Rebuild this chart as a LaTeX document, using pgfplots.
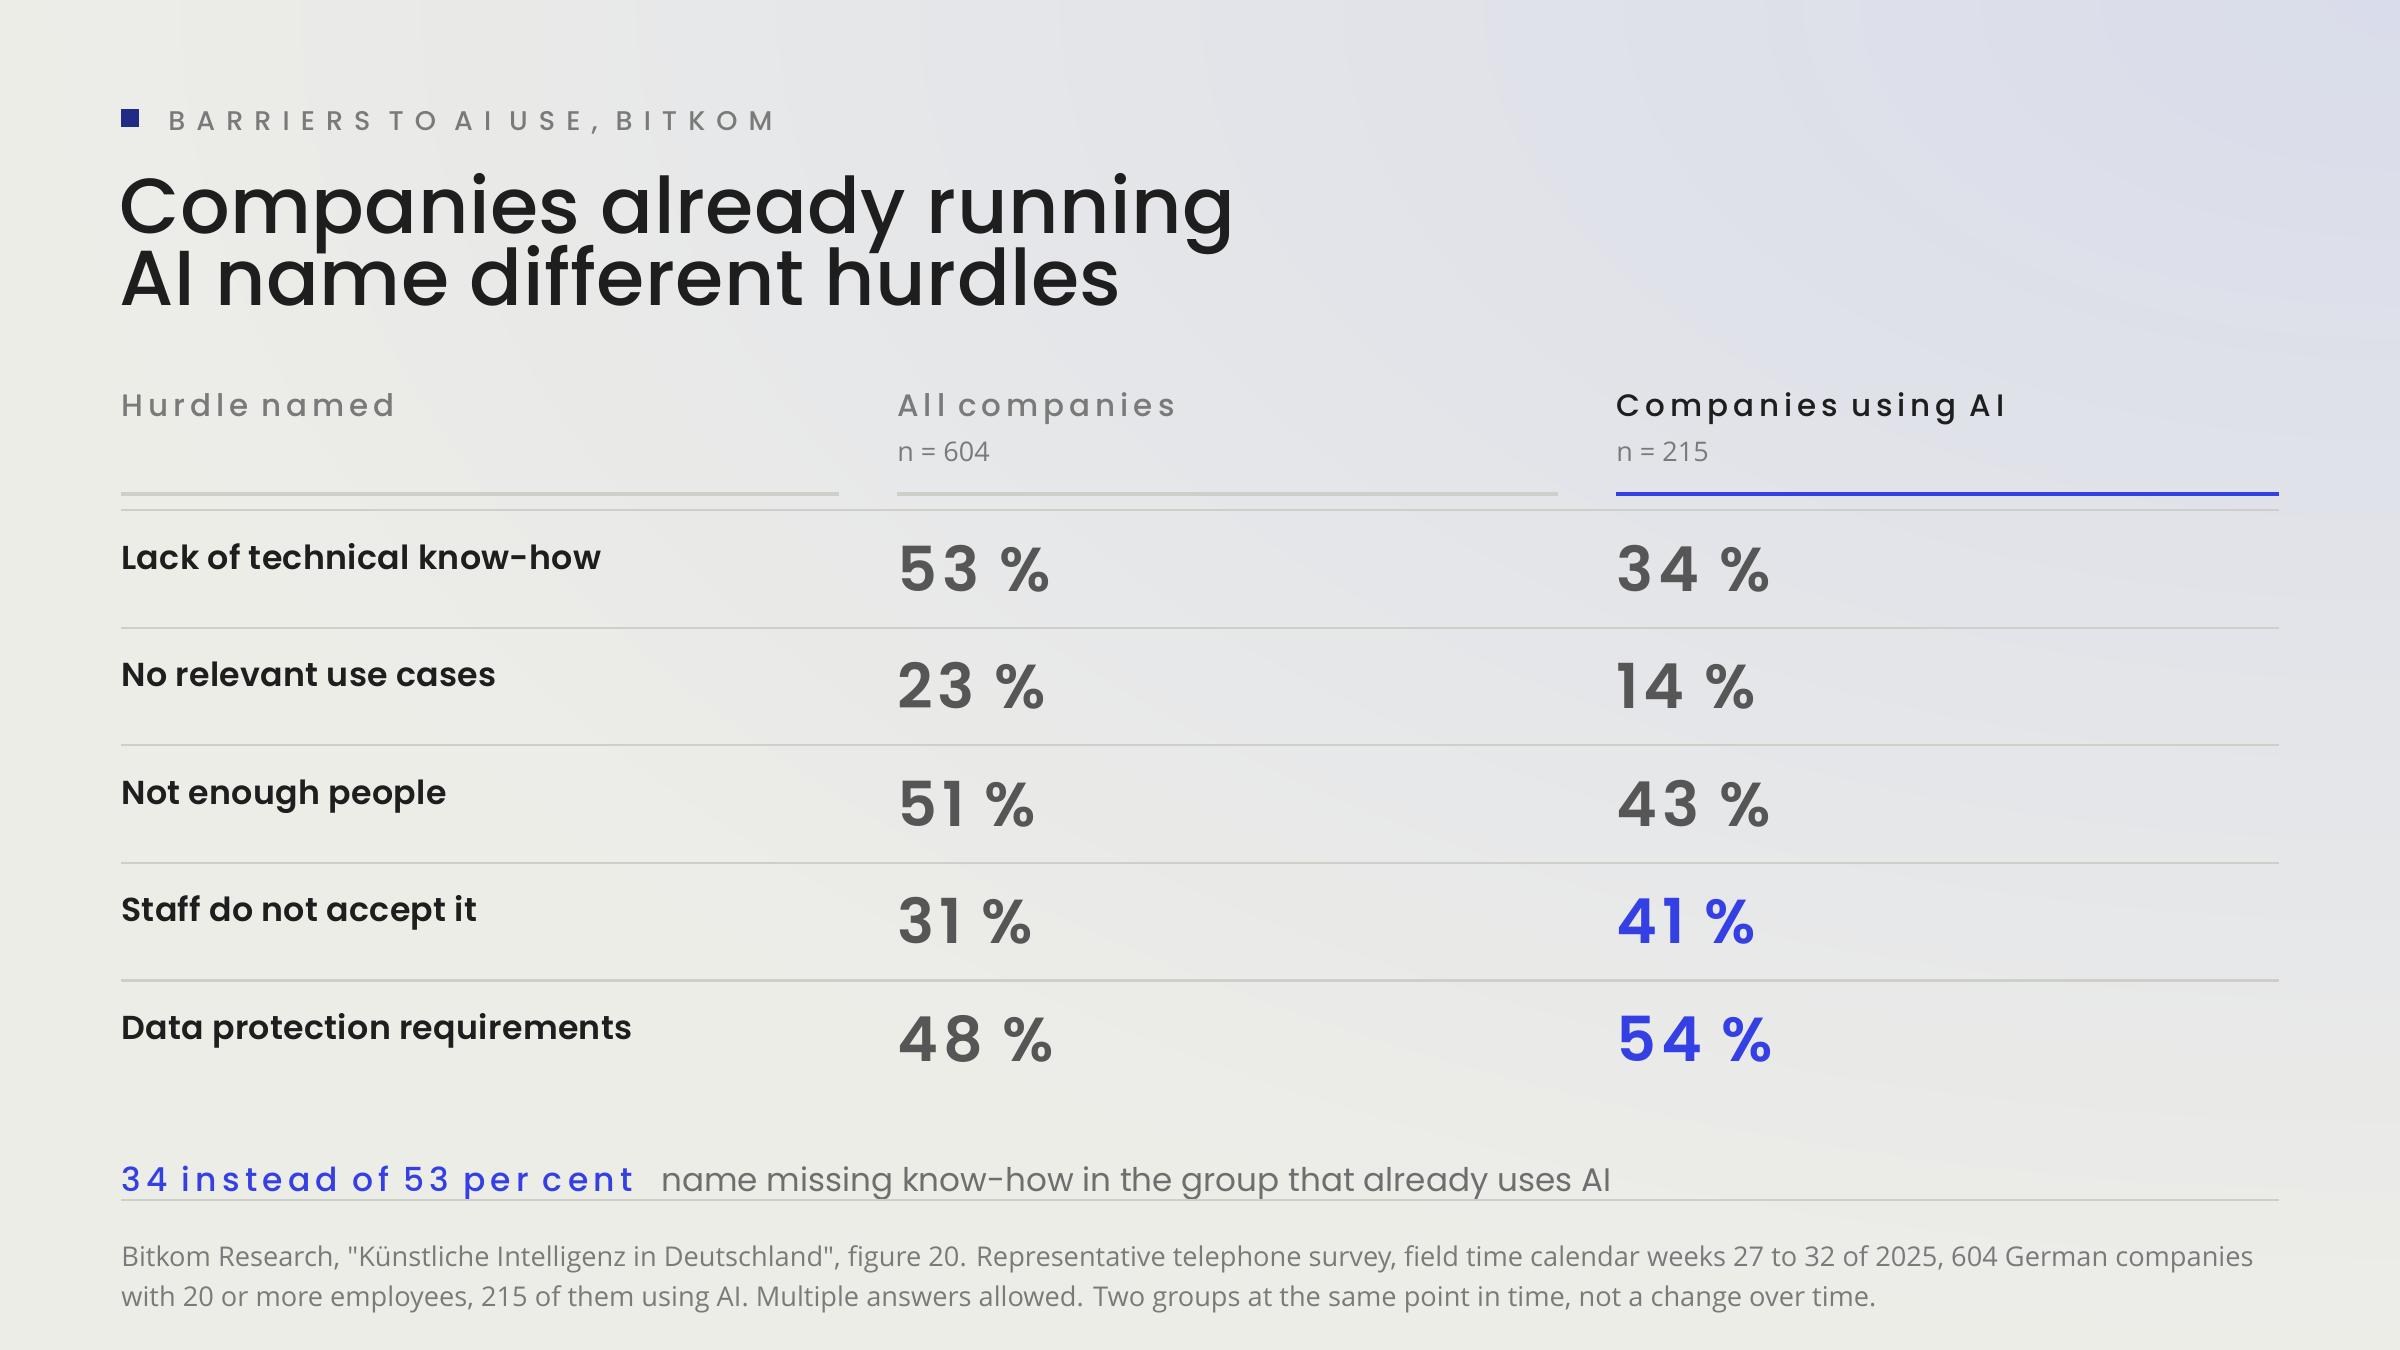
\documentclass[border=0pt]{standalone}
\usepackage{pgfplots}
\pgfplotsset{compat=1.18}
\usepackage{pgfplotstable}
\usepackage{fontspec}
\setmainfont{Poppins}
\newfontfamily\titlefont{Poppins Medium}[LetterSpace=0.5]
\newfontfamily\kickfont{Poppins Medium}[LetterSpace=41]
\newfontfamily\headfont{Poppins Medium}[LetterSpace=16]
\newfontfamily\labfont{Poppins SemiBold}[LetterSpace=1]
\newfontfamily\valfont{Poppins SemiBold}[LetterSpace=8]
\newfontfamily\callfont{Poppins Medium}[LetterSpace=16]
\newfontfamily\notefont{Open Sans}

\definecolor{bgc}{HTML}{EDEDE8}
\definecolor{tint}{HTML}{D9DCEA}
\definecolor{ink}{HTML}{1E1E1E}
\definecolor{grey}{HTML}{7A7A7A}
\definecolor{valgrey}{HTML}{565656}
\definecolor{rulec}{HTML}{CFCFCA}
\definecolor{accent}{HTML}{3440E4}
\definecolor{navy}{HTML}{1F2B85}

% share of companies naming each hurdle (per cent)
\pgfplotstableread[col sep=comma]{
row,label,all,ai
0,Lack of technical know-how,53,34
1,No relevant use cases,23,14
2,Not enough people,51,43
3,Staff do not accept it,31,41
4,Data protection requirements,48,54
}\hurdles

\pgfplotsset{
  valnode/.style={only marks, mark=none,
    nodes near coords={\pgfplotspointmeta~\%},
    point meta=explicit symbolic,
    every node near coord/.style={anchor=base west, inner sep=0pt, text=#1,
      font={\valfont\fontsize{31pt}{35pt}\selectfont}}},
}

\begin{document}
\begin{tikzpicture}
\useasboundingbox (0,0) rectangle (1200pt,675pt);
\fill[bgc] (0,0) rectangle (1200pt,675pt);
\begin{scope}
  \clip (0,0) rectangle (1200pt,675pt);
  \shade[inner color=tint, outer color=bgc] (1200pt,675pt) ellipse (1200pt and 680pt);
\end{scope}

\begin{axis}[
    at={(0,0)}, anchor=south west,
    width=1200pt, height=675pt, scale only axis,
    xmin=0, xmax=2400, ymin=0, ymax=1350,
    y dir=reverse,
    axis lines=none,
    clip=false,
]
% kicker and title
\fill[navy] (axis cs:121,109) rectangle (axis cs:139,127);
\node[anchor=base west, inner sep=0pt, text=grey,
      font={\kickfont\fontsize{13.5pt}{16pt}\selectfont}]
  at (axis cs:168,130) {BARRIERS TO AI USE, BITKOM};
\node[anchor=base west, inner sep=0pt, text=ink,
      font={\titlefont\fontsize{39pt}{46pt}\selectfont}]
  at (axis cs:119,233) {Companies already running};
\node[anchor=base west, inner sep=0pt, text=ink,
      font={\titlefont\fontsize{39pt}{46pt}\selectfont}]
  at (axis cs:119,305) {AI name different hurdles};

% column heads
\node[anchor=base west, inner sep=0pt, text=grey,
      font={\headfont\fontsize{15.5pt}{18pt}\selectfont}]
  at (axis cs:121,416) {Hurdle named};
\node[anchor=base west, inner sep=0pt, text=grey,
      font={\headfont\fontsize{15.5pt}{18pt}\selectfont}]
  at (axis cs:897,416) {All companies};
\node[anchor=base west, inner sep=0pt, text=ink,
      font={\headfont\fontsize{15.5pt}{18pt}\selectfont}]
  at (axis cs:1616,416) {Companies using AI};
\node[anchor=base west, inner sep=0pt, text=grey,
      font={\notefont\fontsize{13.5pt}{16pt}\selectfont}]
  at (axis cs:897,461) {n = 604};
\node[anchor=base west, inner sep=0pt, text=grey,
      font={\notefont\fontsize{13.5pt}{16pt}\selectfont}]
  at (axis cs:1616,461) {n = 215};
\draw[rulec, line width=2.2pt] (axis cs:121,494) -- (axis cs:839,494);
\draw[rulec, line width=2.2pt] (axis cs:897,494) -- (axis cs:1558,494);
\draw[accent, line width=2.2pt] (axis cs:1616,494) -- (axis cs:2279,494);

% row rules
\foreach \yy in {510,627.6,745.2,862.8,980.4} {
  \edef\temp{\noexpand\draw[rulec, line width=1.1pt] (axis cs:121,\yy) -- (axis cs:2279,\yy);}
  \temp
}

% hurdle names
\addplot[only marks, mark=none, nodes near coords,
    point meta=explicit symbolic,
    every node near coord/.style={anchor=base west, inner sep=0pt, text=ink,
      font={\labfont\fontsize{16.6pt}{19pt}\selectfont}}]
  table[x expr=121, y expr={569+117.6*\thisrow{row}}, meta=label] {\hurdles};

% all companies
\addplot[valnode=valgrey]
  table[x expr=897, y expr={591+117.6*\thisrow{row}}, meta=all] {\hurdles};

% companies using AI: grey where lower, blue where higher than all companies
\addplot[valnode=valgrey,
    restrict expr to domain={\thisrow{ai}-\thisrow{all}}{-1000:0}]
  table[x expr=1616, y expr={591+117.6*\thisrow{row}}, meta=ai] {\hurdles};
\addplot[valnode=accent,
    restrict expr to domain={\thisrow{ai}-\thisrow{all}}{0.5:1000}]
  table[x expr=1616, y expr={591+117.6*\thisrow{row}}, meta=ai] {\hurdles};

% callout
\node[anchor=base west, inner sep=0pt, text=accent,
      font={\callfont\fontsize{16.5pt}{19pt}\selectfont}]
  at (axis cs:121,1191) {34 instead of 53 per cent};
\node[anchor=base west, inner sep=0pt, text=grey!90!black,
      font={\fontsize{16.3pt}{19pt}\selectfont}]
  at (axis cs:661,1191) {name missing know-how in the group that already uses AI};
\draw[rulec, line width=1.1pt] (axis cs:121,1200) -- (axis cs:2279,1200);

% source
\node[anchor=base west, inner sep=0pt, text=grey,
      font={\notefont\fontsize{13.6pt}{16pt}\selectfont}]
  at (axis cs:121,1266) {Bitkom Research, "Künstliche Intelligenz in Deutschland", figure 20. Representative telephone survey, field time calendar weeks 27 to 32 of 2025, 604 German companies};
\node[anchor=base west, inner sep=0pt, text=grey,
      font={\notefont\fontsize{13.6pt}{16pt}\selectfont}]
  at (axis cs:121,1306) {with 20 or more employees, 215 of them using AI. Multiple answers allowed. Two groups at the same point in time, not a change over time.};
\end{axis}
\end{tikzpicture}
\end{document}
